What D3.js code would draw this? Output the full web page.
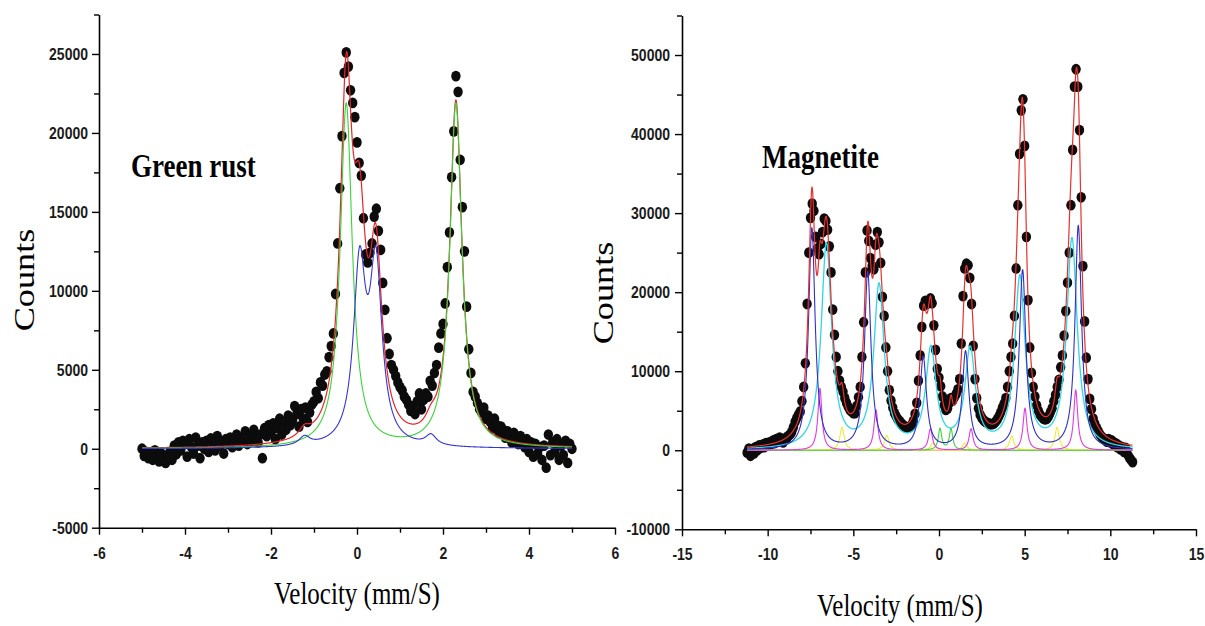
<!DOCTYPE html>
<html><head><meta charset="utf-8">
<script src="https://cdn.jsdelivr.net/npm/d3@7"></script>
<style>body{margin:0;background:#fff}svg{display:block}</style>
</head><body>
<svg id="c" width="1205" height="626"></svg>
<script>
// ---------- Green rust (left) ----------
const grVelStart = -5, grVelStep = 0.05;
const grCounts = [
0,-450,-200,-600,-350,-700,-100,-500,-800,-300,-650,-900,-400,-200,-700,200,-350,400,-100,500,
300,-500,600,100,-300,700,200,-600,400,0,500,-200,650,300,-100,800,200,450,-300,600,
300,700,100,500,900,200,600,400,1100,300,800,500,1200,700,400,900,-600,1300,800,1500,
1000,1600,600,1300,1900,900,1700,1200,2100,1500,
1800,2700,2200,1400,2500,1900,2600,1700,2300,2800,
3000,3600,3200,4200,4000,4700,4900,5800,6500,7300,
9800,13000,16500,19800,23800,25100,24200,22700,21900,21000,
19400,18100,17300,14600,12300,11800,12400,13000,14700,15200,
13800,12600,10500,8800,7000,6000,5300,5000,4600,4200,
3900,3700,3300,3100,2800,2400,2700,2200,3000,3500,
2500,3100,3500,3300,4300,4000,4800,5300,6400,7300,
7900,9200,11500,13700,17200,20100,23600,22600,18300,15300,
12500,9000,6300,4800,3600,3300,2900,2500,2300,2600,
1900,2100,1700,1300,1900,1500,1000,1400,1200,700,
1100,900,400,1000,700,300,800,500,100,600,
-200,400,-500,300,-300,100,-700,200,-1200,900,
-400,400,-200,600,-700,200,-400,500,-900,300,0];
// fitted Lorentzian lines: [centre (mm/s), height (counts), half width (mm/s)]
const grFitGreen = [[-0.25,21800,0.17],[2.30,21800,0.17]];
const grFitBlue  = [[0.06,10970,0.17],[0.44,10970,0.17],[-1.22,550,0.15],[1.72,650,0.15]];
const grXTicks = [-6,-4,-2,0,2,4,6], grXMinor = [-5,-3,-1,1,3,5];
const grYTicks = [-5000,0,5000,10000,15000,20000,25000];
const grYMinor = [-2500,2500,7500,12500,17500,22500,27500];

// ---------- Magnetite (right) ----------
const mgVelStart = -11.2, mgVelStep = 0.1;
const mgCounts = [
-300,200,-700,100,-400,400,0,600,300,700,
400,900,600,1000,800,1200,900,1400,1100,1600,
1200,1000,1500,1400,1800,2000,2300,2900,3600,4100,
4500,4900,6200,8000,11000,18500,25000,29400,31200,30300,
27000,25500,24800,26100,27600,29300,29000,27900,25800,22500,
17800,14600,11800,10000,8800,8000,7400,6600,6000,5500,
5100,4900,4700,4700,5600,6700,8000,11800,16200,22500,
27800,26500,24300,23300,22900,26000,27600,26300,23700,19400,
17000,13000,10000,7600,6300,5400,4700,4300,3900,3700,
3400,3200,3000,2900,2900,3000,3200,3700,4600,6000,
8800,12000,15600,18300,18900,18500,18700,19200,18600,15800,
12700,10300,9200,8100,6800,5700,5100,5300,6000,6600,
6300,6700,7100,7700,9000,13500,19500,23000,23600,23400,
21800,18500,13200,9000,6600,5300,4500,4100,3800,3600,
3500,3400,3300,3300,3400,3600,3900,4300,4800,5400,
5900,6600,8000,10000,11800,13500,17000,23000,31000,37500,
43000,44400,38500,27000,19000,13000,9800,8000,6800,5700,
5000,4500,4200,4000,3900,4000,4300,4800,5300,6200,
7000,8000,8900,10500,12000,14500,17600,21200,25000,31000,
38000,46000,48200,46000,40500,32000,23300,16300,11700,9000,
6500,5200,4000,3300,2800,2400,2000,1700,1500,1300,
1100,1400,1000,1200,700,900,400,600,100,400,
-200,300,-500,-900,-1200,-1500];
const mgFitBlue    = [[-7.42,28000,0.23],[-4.16,22400,0.23],[-0.92,11600,0.23],[1.55,12300,0.23],[4.88,22600,0.23],[8.13,28300,0.23]];
const mgFitCyan    = [[-6.57,25900,0.37],[-3.50,20500,0.37],[-0.47,12400,0.37],[1.82,12300,0.37],[4.72,21500,0.37],[7.76,26500,0.37]];
const mgFitMagenta = [[-6.95,7800,0.14],[-3.68,5100,0.14],[-0.50,2700,0.14],[1.87,2700,0.14],[5.02,5300,0.14],[7.98,7600,0.14]];
const mgFitYellow  = [[-5.66,2900,0.15],[-3.05,1900,0.15],[-0.35,900,0.15],[1.50,900,0.15],[4.24,1800,0.15],[6.89,2900,0.15]];
const mgFitGreen   = [[0.06,2700,0.12],[0.70,2700,0.12]];
const mgXTicks = [-15,-10,-5,0,5,10,15], mgXMinor = [-12.5,-7.5,-2.5,2.5,7.5,12.5];
const mgYTicks = [-10000,0,10000,20000,30000,40000,50000];
const mgYMinor = [-5000,5000,15000,25000,35000,45000,55000];

// ---------- drawing ----------
const svg = d3.select("#c");
function lor(v, lines){ let s=0; for(const [c,h,g] of lines){ const d=(v-c)/g; s += h/(1+d*d);} return s; }

function panel(o){
  const x = d3.scaleLinear().domain(o.xDom).range(o.xRange);
  const y = d3.scaleLinear().domain(o.yDom).range(o.yRange);
  const g = svg.append("g");
  const x0 = o.xRange[0], yB = o.yRange[0];

  const fmt = d => String(d);
  const xa = g.append("g").attr("transform",`translate(0,${yB})`)
    .call(d3.axisBottom(x).tickValues(o.xTicks).tickSize(7).tickPadding(9).tickSizeOuter(0).tickFormat(fmt));
  g.append("g").attr("transform",`translate(0,${yB})`)
    .call(d3.axisBottom(x).tickValues(o.xMinor).tickSize(5).tickSizeOuter(0).tickFormat(""))
    .select(".domain").remove();
  const ya = g.append("g").attr("transform",`translate(${x0},0)`)
    .call(d3.axisLeft(y).tickValues(o.yTicks).tickSize(7).tickPadding(o.yPad).tickSizeOuter(0).tickFormat(fmt));
  g.append("g").attr("transform",`translate(${x0},0)`)
    .call(d3.axisLeft(y).tickValues(o.yMinor).tickSize(5).tickSizeOuter(0).tickFormat(""))
    .select(".domain").remove();
  g.selectAll(".domain").attr("stroke","#000").attr("stroke-width",1.6);
  g.selectAll(".tick line").attr("stroke","#000").attr("stroke-width",1.4);
  g.selectAll(".tick text").attr("fill","#1a1a1a")
    .style("font-family","'Liberation Sans', Arial, sans-serif")
    .style("font-weight","bold").style("font-size","14px");
  xa.selectAll(".tick text").attr("transform","scale(1,1.2)");
  ya.selectAll(".tick text").attr("transform","scale(1,1.2)").attr("y",0);

  // data dots
  const vel = o.counts.map((c,i)=> o.vStart + i*o.vStep);
  g.append("g").selectAll("ellipse").data(o.counts).join("ellipse")
    .attr("cx",(d,i)=>x(vel[i])).attr("cy",d=>y(d))
    .attr("rx",4.7).attr("ry",5.4).attr("fill","#0c0c0c");

  // fit curves
  const v0 = o.vStart, v1 = o.vStart + (o.counts.length-1)*o.vStep;
  const grid = d3.range(v0, v1+1e-9, 0.005);
  const line = d3.line().x(d=>x(d[0])).y(d=>y(d[1]));
  for(const c of o.curves){
    const pts = grid.map(v=>[v, c.f(v)]);
    g.append("path").attr("d", line(pts)).attr("fill","none")
      .attr("stroke", c.color).attr("stroke-width", c.w || 1.1);
  }

  // titles
  g.append("text").attr("transform",`translate(${o.title[0]},${o.title[1]}) scale(1,1.25)`)
    .style("font-family","'Liberation Serif','Times New Roman',serif").style("font-weight","bold")
    .style("font-size","27px").attr("fill","#000").text(o.title[2]);
  g.append("text").attr("transform",`translate(${o.xLab[0]},${o.xLab[1]}) scale(1,1.25)`)
    .attr("text-anchor","middle")
    .style("font-family","'Liberation Serif','Times New Roman',serif")
    .style("font-size","25px").attr("fill","#000").text("Velocity (mm/S)");
  g.append("text").attr("transform",`translate(${o.yLab[0]},${o.yLab[1]}) rotate(-90) scale(1.25,1)`)
    .attr("text-anchor","middle")
    .style("font-family","'Liberation Serif','Times New Roman',serif")
    .style("font-size","29px").attr("fill","#000").text("Counts");
}

panel({
  xDom:[-6,6], xRange:[99,615], yDom:[-5000,27500], yRange:[527.7,14.5], yPad:4,
  xTicks:grXTicks, xMinor:grXMinor, yTicks:grYTicks, yMinor:grYMinor,
  vStart:grVelStart, vStep:grVelStep, counts:grCounts,
  curves:[
    {color:"#e3262b", f:v=>lor(v,grFitGreen)+lor(v,grFitBlue), w:1.2},
    {color:"#3ad43a", f:v=>lor(v,grFitGreen)},
    {color:"#3636d2", f:v=>lor(v,grFitBlue)}
  ],
  title:[131,177,"Green rust"], xLab:[357,604], yLab:[34,280]
});

panel({
  xDom:[-15,15], xRange:[682,1196], yDom:[-10000,55000], yRange:[529.3,15.5], yPad:5,
  xTicks:mgXTicks, xMinor:mgXMinor, yTicks:mgYTicks, yMinor:mgYMinor,
  vStart:mgVelStart, vStep:mgVelStep, counts:mgCounts,
  curves:[
    {color:"#f2c27c", f:v=>0, w:1.6},
    {color:"#ecec3a", f:v=>lor(v,mgFitYellow)},
    {color:"#3fd43f", f:v=>lor(v,mgFitGreen)},
    {color:"#e03ce0", f:v=>lor(v,mgFitMagenta)},
    {color:"#2fd6e6", f:v=>lor(v,mgFitCyan), w:1.3},
    {color:"#3030c8", f:v=>lor(v,mgFitBlue)},
    {color:"#e8302c", f:v=>lor(v,mgFitBlue)+lor(v,mgFitCyan)+lor(v,mgFitMagenta)+lor(v,mgFitYellow)+lor(v,mgFitGreen), w:1.2}
  ],
  title:[762,168,"Magnetite"], xLab:[900,616], yLab:[613,293]
});
</script>
</body></html>
